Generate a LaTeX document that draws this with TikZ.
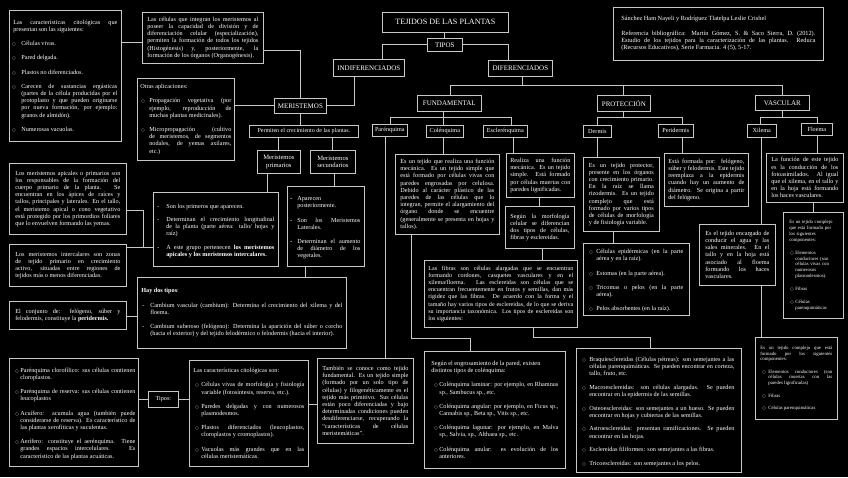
\documentclass[tikz,border=0pt]{standalone}
\usepackage{fontspec}
\setmainfont{Liberation Serif}
\newfontfamily\dejavu{DejaVu Sans}
\setlength\parindent{0pt}
\tolerance=9999 \emergencystretch=4pt \hyphenpenalty=10000 \exhyphenpenalty=10000 \hbadness=10000
\definecolor{ln}{HTML}{C8C8C8}
\newlength\itgap \setlength\itgap{6pt}
\newlength\ithang \setlength\ithang{9pt}
\newlength\itoff \setlength\itoff{0pt}
\newcommand\bul{{\dejavu\fontsize{3.8}{4}\selectfont ○}}
\newcommand\dotb{{\fontsize{4.8}{4}\selectfont\textbullet}}
\newcommand\itm[2][\bul]{\par\vspace{\itgap}\hangindent=\ithang\hangafter=1\noindent\makebox[\ithang][l]{\hspace{\itoff}#1}#2\par}
\newcommand\itf[2][\bul]{\par\hangindent=\ithang\hangafter=1\noindent\makebox[\ithang][l]{\hspace{\itoff}#1}#2\par}
\tikzset{
  box/.style={draw=ln, line width=0.7pt, text=white, font=\fontsize{6.2}{7.2}\selectfont, align=justify, inner ysep=2pt},
  lblbox/.style={draw=ln, line width=0.7pt, text=white, align=center, inner sep=0pt, font=\fontsize{7}{8}\selectfont},
  sm/.style={font=\fontsize{6.2}{7}\selectfont},
  conn/.style={draw=ln, line width=0.8pt},
}
% name, x, y, w, h, pad, opts, text
\newcommand\bx[8]{\pgfmathsetmacro\tw{#4-2*#6}\node[box,inner xsep=#6pt,text width=\tw pt,minimum height=#5pt,anchor=north west,#7] (#1) at (#2,#3) {#8};}
% name, x, y, w, h, opts, text
\newcommand\lb[7]{\node[lblbox,minimum width=#4pt,minimum height=#5pt,anchor=north west,#6] (#1) at (#2,#3) {#7};}
\begin{document}
\begin{tikzpicture}[x=1pt,y=-1pt]
\useasboundingbox (0,0) rectangle (848,477);
\fill[black] (0,0) rectangle (848,477);

% ---------- labels ----------
\lb{TEJ}{382}{12}{126}{20}{font=\fontsize{8.1}{9}\selectfont}{TEJIDOS DE LAS PLANTAS}
\lb{TIPOS}{427}{38}{35}{13}{}{TIPOS}
\lb{INDIF}{333}{59}{71}{17}{}{INDIFERENCIADOS}
\lb{DIF}{488}{60}{64}{16}{}{DIFERENCIADOS}
\lb{MER}{274}{98}{52}{15}{}{MERISTEMOS}
\lb{FUND}{417}{95}{64}{16}{}{FUNDAMENTAL}
\lb{PROT}{597}{95}{53}{16}{}{PROTECCIÓN}
\lb{VASC}{755}{95}{54}{15}{}{VASCULAR}
\lb{PAR}{372}{124}{35}{12}{sm}{Parénquima}
\lb{COL}{426}{125}{37}{12}{sm}{Colénquima}
\lb{ESC}{483}{125}{44}{12}{sm}{Esclerénquima}
\lb{DER}{583}{125}{28}{12}{sm}{Dermis}
\lb{PER}{658}{124}{35}{13}{sm}{Peridermis}
\lb{XIL}{747}{124}{29}{13}{sm}{Xilema}
\lb{FLO}{801}{123}{31}{12}{sm}{Floema}
\lb{PERM}{249}{125}{109}{12}{font=\fontsize{6}{7}\selectfont}{Permiten el crecimiento de las plantas.}
\lb{MP}{257}{150}{43}{23}{font=\fontsize{6.6}{7.8}\selectfont}{Meristemos\\primarios}
\lb{MS}{310}{150}{45}{23}{font=\fontsize{6.6}{7.8}\selectfont}{Meristemos\\secundarios}
\lb{TIP}{148}{391}{30}{16}{sm}{Tipos:}

% ---------- text boxes ----------
\bx{A}{9}{10}{112}{131}{4}{}{Las características citológicas que\break presentan son las siguientes:\setlength\itgap{7pt}\setlength\itoff{-1pt}\setlength\ithang{8pt}
\itm{Células vivas.}
\itm{Pared delgada.}
\itm{Plastos no diferenciados.}
\itm{Carecen de sustancias ergásticas\break (partes de la célula producidas por el\break protoplasto y que pueden originarse\break por nueva formación, por ejemplo:\break granos de almidón).}
\itm{Numerosas vacuolas.}}

\bx{B}{142}{12}{121}{51}{5}{}{Las células que integran los meristemos al\break poseer la capacidad de división y de\break diferenciación celular (especialización),\break permiten la formación de todos los tejidos\break (Histogénesis) y, posteriormente, la\break formación de los órganos (Organogénesis).}

\bx{C}{137}{78}{97}{82}{3}{}{Otras aplicaciones:\setlength\itgap{7pt}\setlength\itoff{1pt}\setlength\ithang{9pt}
\itm{Propagación vegetativa (por\break ejemplo, reproducción de\break muchas plantas medicinales).}
\itm{Micropropagación (cultivo\break de meristemos, de segmentos\break nodales, de yemas axilares,\break etc.)}}

\bx{D}{153}{192}{125}{74}{4}{}{\setlength\itoff{0pt}\setlength\ithang{9pt}\setlength\itgap{6pt}
\itf[-]{Son los primeros que aparecen.}
\itm[-]{Determinan el crecimiento longitudinal\break de la planta (parte aérea: tallo/ hojas y\break raíz)}
\itm[-]{A este grupo pertenecen \textbf{los meristemos\break apicales y los meristemos intercalares.}}}

\bx{E}{287}{186}{77}{80}{4}{}{\setlength\itoff{-1pt}\setlength\ithang{6pt}\setlength\itgap{7pt}
\itf[\dotb]{Aparecen\break posteriormente.}
\itm[\dotb]{Son los Meristemos\break Laterales.}
\itm[\dotb]{Determinan el aumento\break de diámetro de los\break vegetales.}}

\bx{F}{137}{277}{209}{71}{4}{}{\textbf{Hay dos tipos}:\setlength\itoff{1pt}\setlength\ithang{9pt}\setlength\itgap{7pt}
\itm[-]{Cambium vascular (cambium): Determina el crecimiento del xilema y del\break floema.}
\itm[-]{Cambium suberoso (felógeno): Determina la aparición del súber o corcho\break (hacia el exterior) y del tejido felodérmico o felodermis (hacia el interior).}}

\bx{G}{9}{163}{117}{71}{6}{}{Los meristemos apicales o primarios son\break los responsables de la formación del\break cuerpo primario de la planta. Se\break encuentran en los ápices de raíces y\break tallos, principales y laterales. En el tallo,\break el meristemo apical o cono vegetativo\break está protegido por los primordios foliares\break que lo envuelven formando las yemas.}

\bx{H}{9}{244}{117}{42}{6}{}{Los meristemos intercalares son zonas\break de tejido primario en crecimiento\break activo, situadas entre regiones de\break tejidos más o menos diferenciadas.}

\bx{I}{9}{301}{117}{28}{6}{}{El conjunto de: felógeno, súber y\break felodermis, constituye la \textbf{peridermis.}}

\bx{J}{9}{358}{129}{108}{3}{}{\setlength\itoff{3pt}\setlength\ithang{8pt}\setlength\itgap{7pt}
\itf{Parénquima clorofílico: sus células contienen\break cloroplastos.}
\itm{Parénquima de reserva: sus células contienen\break leucoplastos}
\itm{Acuífero: acumula agua (también puede\break considerarse de reserva). Es característico de\break las plantas xerofíticas y suculentas.}
\itm{Aerífero: constituye el aerénquima. Tiene\break grandes espacios intercelulares. Es\break característico de las plantas acuáticas.}}

\bx{K}{189}{360}{119}{106}{4}{}{Las características citológicas son:\setlength\itoff{2pt}\setlength\ithang{8pt}\setlength\itgap{7pt}
\itm{Células vivas de morfología y fisiología\break variable (fotosíntesis, reserva, etc.).}
\itm{Paredes delgadas y con numerosos\break plasmodesmos.}
\itm{Plastos diferenciados (leucoplastos,\break cloroplastos y cromoplastos).}
\itm{Vacuolas más grandes que en las\break células meristemáticas.}}

\bx{L}{317}{358}{96}{85}{5}{}{También se conoce como tejido\break fundamental. Es un tejido simple\break (formado por un solo tipo de\break células) y filogenéticamente es el\break tejido más primitivo. Sus células\break están poco diferenciadas y bajo\break determinadas condiciones pueden\break desdiferenciarse, recuperando la\break “características de células\break meristemáticas”.}

\bx{M}{395}{154}{104}{80}{5}{}{Es un tejido que realiza una función\break mecánica. Es un tejido simple que\break está formado por células vivas con\break paredes engrosadas por celulosa.\break Debido al carácter plástico de las\break paredes de las células que lo\break integran, permite el alargamiento del\break órgano donde se encuentre\break (generalmente se presenta en hojas y\break tallos).}

\bx{N}{424}{351}{141}{117}{7}{}{Según el engrosamiento de la pared, existen\\distintos tipos de colénquima:\setlength\itoff{3pt}\setlength\ithang{8pt}\setlength\itgap{7pt}
\itm{Colénquima laminar: por ejemplo, en Rhamnus\break sp., Sambucus sp., etc.}
\itm{Colénquima angular: por ejemplo, en Ficus sp.,\break Cannabis sp., Beta sp., Vitis sp., etc.}
\itm{Colénquima lagunar: por ejemplo, en Malva\break sp., Salvia, sp., Althaea sp., etc.}
\itm{Colénquima anular: es evolución de los\break anteriores.}}

\bx{O}{506}{153}{68}{44}{4}{}{Realiza una función\break mecánica. Es un tejido\break simple. Está formado\break por células muertas con\break paredes lignificadas.}

\bx{P}{505}{206}{69}{42}{5}{}{Según la morfología\break celular se diferencian\break dos tipos de células,\break fibras y esclereidas.}

\bx{Q}{424}{260}{153}{67}{4}{font=\fontsize{6.1}{7.2}\selectfont}{Las fibras son células alargadas que se encuentran\break formando cordones, casquetes vasculares y en el\break xilema/floema. Las esclereidas son células que se\break encuentran frecuentemente en frutos y semillas, dan más\break rigidez que las fibras. De acuerdo con la forma y el\break tamaño hay varios tipos de esclereidas, de lo que se deriva\break su importancia taxonómica. Los tipos de esclereidas son\break los siguientes:}

\bx{R}{576}{348}{165}{124}{7}{}{\setlength\itoff{-1pt}\setlength\ithang{6pt}\setlength\itgap{6.5pt}
\itf{Braquiesclereidas (Células pétreas): son semejantes a las\break células parenquimáticas. Se pueden encontrar en corteza,\break tallo, fruto, etc.}
\itm{Macroesclereidas: son células alargadas. Se pueden\break encontrar en la epidermis de las semillas.}
\itm{Osteoesclereidas: son semejantes a un hueso. Se pueden\break encontrar en hojas y cubiertas de las semillas.}
\itm{Astroesclereidas: presentan ramificaciones. Se pueden\break encontrar en las hojas.}
\itm{Esclereidas filiformes: son semejantes a las fibras.}
\itm{Tricoesclereidas: son semejantes a los pelos.}}

\bx{S}{583}{243}{106}{72}{6}{}{\setlength\itoff{0pt}\setlength\ithang{7pt}\setlength\itgap{7pt}
\itf{Células epidérmicas (en la parte\break aérea y en la raíz).}
\itm{Estomas (en la parte aérea).}
\itm{Tricomas o pelos (en la parte aérea).}
\itm{Pelos absorbentes (en la raíz).}}

\bx{T}{583}{157}{76}{74}{5.5}{}{Es un tejido protector,\break presente en los órganos\break con crecimiento primario.\break En la raíz se llama\break rizodermis. Es un tejido\break complejo que está\break formado por varios tipos\break de células de morfología\break y de fisiología variable.}

\bx{U}{664}{153}{84}{53}{4}{}{Está formada por: felógeno,\break súber y felodermis. Este tejido\break reemplaza a la epidermis\break cuando hay un aumento de\break diámetro. Se origina a partir\break del felógeno.}

\bx{V}{699}{224}{76}{61}{6}{}{Es el tejido encargado de\break conducir el agua y las\break sales minerales. En el\break tallo y en la hoja está\break asociado al floema\break formando los haces\break vasculares.}

\bx{W}{755}{337}{82}{82}{5}{font=\fontsize{4.8}{5.6}\selectfont}{Es un tejido complejo que está\break formado por los siguientes\break componentes:\setlength\itoff{2pt}\setlength\ithang{8pt}\setlength\itgap{7pt}
\itm{Elementos conductores (son\break células muertas con las\break paredes lignificadas)}
\itm{Fibras}
\itm{Células parenquimáticas}}

\bx{X}{766}{153}{77}{49}{5}{}{La función de este tejido\break es la conducción de los\break fotoasimilados. Al igual\break que el xilema, en el tallo y\break en la hoja está formando\break los haces vasculares.}

\bx{Y}{783}{212}{60}{106}{6}{font=\fontsize{4.8}{5.9}\selectfont,align=left}{Es un tejido complejo\break que está formado por\break los siguientes\break componentes:\setlength\itoff{1pt}\setlength\ithang{6pt}\setlength\itgap{7pt}
\itm{Elementos\break conductores (son\break células vivas con\break numerosos\break plasmodesmos).}
\itm{Fibras}
\itm{Células\break parenquimáticas}}

\bx{Z}{613}{7}{210}{53}{8}{font=\fontsize{6.3}{7.4}\selectfont}{Sánchez Ham Nayeli y Rodríguez Tlatelpa Leslie Crishel\par\vspace{7pt}Referencia bibliográfica: Martín Gómez, S. \& Saco Sierra, D. (2012).\break Estudio de los tejidos para la caracterización de las plantas. Reduca\break (Recursos Educativos), Serie Farmacia. 4 (5), 5-17.}

% ---------- connectors ----------
\draw[conn] (A.east |- 0,42) -- (B.west |- 0,42);
\draw[conn] (B.east |- 0,50) -| (MER.north);
\draw[conn] (C.east |- MER.west) -- (MER.west);
\draw[conn] (INDIF.south -| 354,0) |- (MER.east);
\draw[conn] (TIPOS.north |- TEJ.south) -- (TIPOS.north);
\draw[conn] (TIPOS.west) -| (INDIF.north -| 382,0);
\draw[conn] (TIPOS.east) -| (DIF.north -| 508,0);
\draw[conn] (DIF.south -| 522,0) -- (522,85);
\draw[conn] (FUND.north -| 450,0) |- (VASC.north |- 0,85) -- (VASC.north);
\draw[conn] (PROT.north) -- (PROT.north |- 0,85);
% fundamental
\draw[conn] (FUND.south -| 443,0) -- (COL.north -| 443,0);
\draw[conn] (PAR.north -| 390,0) |- (511,117) -- (ESC.north -| 511,0);
% proteccion
\draw[conn] (PROT.south) -- (PROT.south |- 0,117);
\draw[conn] (DER.north) |- (682,117) -- (PER.north -| 682,0);
% vascular
\draw[conn] (VASC.south) -- (VASC.south |- 0,117);
\draw[conn] (XIL.north -| 760,0) |- (817,117) -- (FLO.north -| 817,0);
% meristemos
\draw[conn] (MER.south) -- (MER.south |- PERM.north);
\draw[conn] (MP.north) -- (MP.north |- PERM.south);
\draw[conn] (MS.north) -- (MS.north |- PERM.south);
\draw[conn] (MP.south -| 267,0) -- (D.north -| 267,0);
\draw[conn] (MS.south -| 334,0) -- (E.north -| 334,0);
\draw[conn] (E.south -| 305,0) -- (F.north -| 305,0);
\draw[conn] (G.east |- 0,210) -| (143,247);
\draw[conn] (H.east |- 0,247) -- (D.west |- 0,247);
\draw[conn] (I.east |- 0,316) -- (F.west |- 0,316);
% parenquima
\draw[conn] (J.east |- TIP.west) -- (TIP.west);
\draw[conn] (TIP.east) -- (K.west |- TIP.east);
\draw[conn] (K.east |- 0,404) -- (L.west |- 0,404);
\draw[conn] (PAR.south -| 385,0) -- (L.north -| 385,0);
% colenquima
\draw[conn] (COL.south -| 443,0) -- (M.north -| 443,0);
\draw[conn] (M.south -| 411,0) |- (470,338) -- (N.north -| 470,0);
% esclerenquima
\draw[conn] (ESC.south -| 513,0) -- (O.north -| 513,0);
\draw[conn] (O.south -| 539,0) -- (P.north -| 539,0);
\draw[conn] (P.south -| 542,0) -- (Q.north -| 542,0);
\draw[conn] (Q.south -| 533,0) |- (650,337) -- (R.north -| 650,0);
% dermis / peridermis
\draw[conn] (DER.south) -- (DER.south |- T.north);
\draw[conn] (T.south -| 613,0) -- (S.north -| 613,0);
\draw[conn] (PER.south -| 682,0) -- (U.north -| 682,0);
% xilema / floema
\draw[conn] (XIL.south -| 761,0) -- (V.north -| 761,0);
\draw[conn] (V.south -| 761,0) -- (W.north -| 761,0);
\draw[conn] (FLO.south -| 817,0) -- (X.north -| 817,0);
\draw[conn] (X.south -| 813,0) -- (Y.north -| 813,0);
\end{tikzpicture}
\end{document}
